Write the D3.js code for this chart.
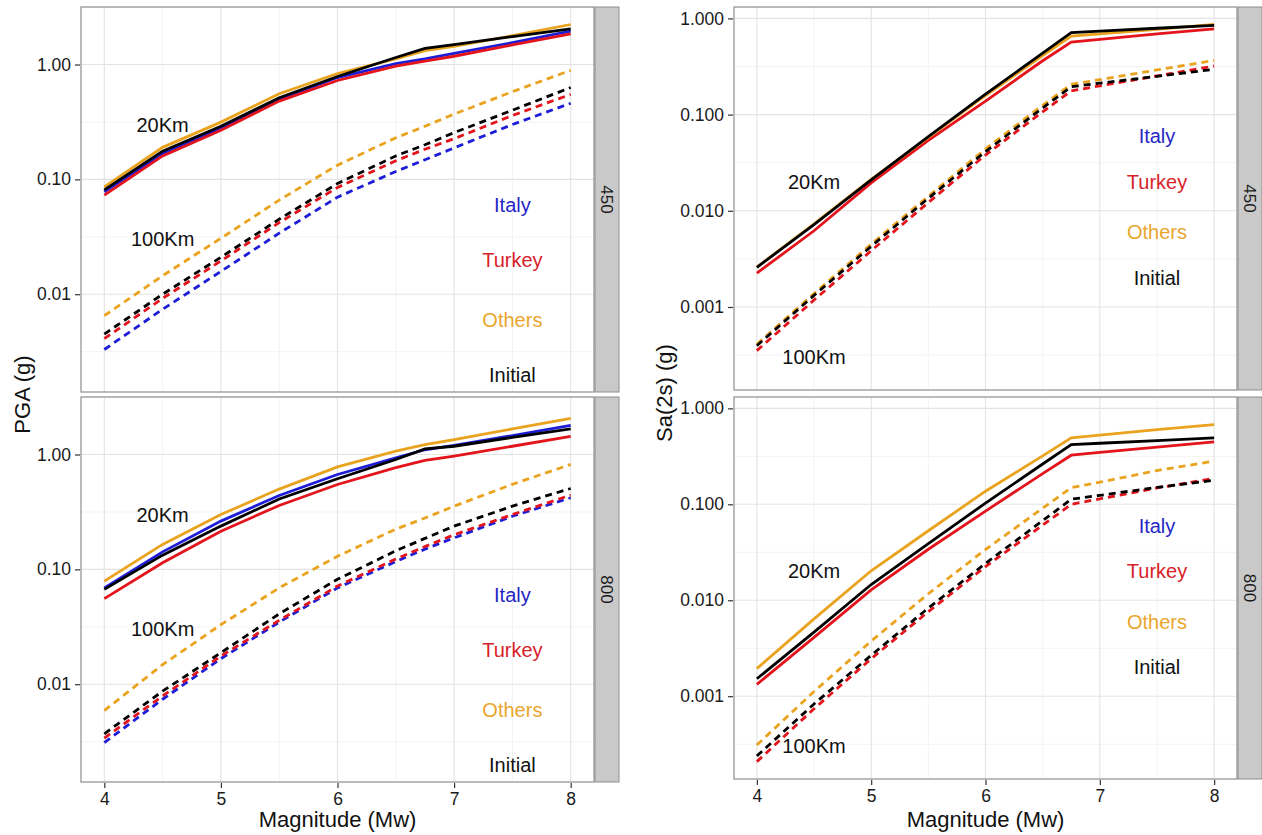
<!DOCTYPE html>
<html>
<head>
<meta charset="utf-8">
<script src="https://cdn.jsdelivr.net/npm/d3@7"></script>
<style>
  body { margin: 0; background: #fff; }
  svg { font-family: "Liberation Sans", Arial, sans-serif; }
</style>
</head>
<body>
<script>
// magnitudes shared by every curve
const magnitudes = [4, 4.5, 5, 5.5, 6, 6.5, 6.75, 7, 7.5, 8];
const regionNames = ["Italy", "Turkey", "Others", "Initial"];
const siteLabels = ["450", "800"];
const distanceLabels = ["20Km", "100Km"];

// PGA, Vs30 = 450, 20 km
const pga450NearItaly = [0.078, 0.168, 0.28, 0.50, 0.77, 1.02, 1.12, 1.25, 1.55, 1.95];
const pga450NearTurkey = [0.073, 0.16, 0.268, 0.48, 0.726, 0.97, 1.07, 1.18, 1.48, 1.85];
const pga450NearOthers = [0.086, 0.19, 0.315, 0.556, 0.835, 1.12, 1.32, 1.44, 1.78, 2.23];
const pga450NearInitial = [0.081, 0.176, 0.29, 0.513, 0.787, 1.15, 1.38, 1.49, 1.75, 2.04];
// PGA, 450, 100 km
const pga450FarItaly = [0.0033, 0.0074, 0.0158, 0.034, 0.070, 0.117, 0.148, 0.188, 0.30, 0.46];
const pga450FarTurkey = [0.0041, 0.0092, 0.0195, 0.042, 0.085, 0.145, 0.183, 0.226, 0.36, 0.55];
const pga450FarOthers = [0.0065, 0.0145, 0.0307, 0.066, 0.133, 0.23, 0.29, 0.37, 0.58, 0.89];
const pga450FarInitial = [0.0045, 0.0100, 0.021, 0.045, 0.092, 0.16, 0.20, 0.255, 0.40, 0.63];
// PGA, 800, 20 km
const pga800NearItaly = [0.069, 0.142, 0.263, 0.44, 0.67, 0.935, 1.10, 1.20, 1.46, 1.79];
const pga800NearTurkey = [0.0556, 0.114, 0.215, 0.36, 0.548, 0.77, 0.89, 0.97, 1.18, 1.44];
const pga800NearOthers = [0.079, 0.165, 0.30, 0.50, 0.78, 1.07, 1.22, 1.35, 1.67, 2.06];
const pga800NearInitial = [0.067, 0.133, 0.238, 0.41, 0.615, 0.905, 1.12, 1.18, 1.41, 1.67];
// PGA, 800, 100 km
const pga800FarItaly = [0.0031, 0.0074, 0.0167, 0.0347, 0.069, 0.117, 0.15, 0.188, 0.29, 0.42];
const pga800FarTurkey = [0.0034, 0.0079, 0.0176, 0.036, 0.0716, 0.123, 0.158, 0.20, 0.30, 0.443];
const pga800FarOthers = [0.0059, 0.0148, 0.033, 0.069, 0.13, 0.224, 0.28, 0.355, 0.55, 0.82];
const pga800FarInitial = [0.0037, 0.0087, 0.0188, 0.041, 0.082, 0.145, 0.186, 0.238, 0.355, 0.506];

// Sa(2s), 450, 20 km (Italy lies under Initial)
const sa450NearTurkey = [0.00225, 0.0062, 0.0195, 0.054, 0.138, 0.363, 0.568, 0.605, 0.69, 0.78];
const sa450NearOthers = [0.0026, 0.0073, 0.0212, 0.058, 0.158, 0.41, 0.656, 0.69, 0.77, 0.866];
const sa450NearInitial = [0.00258, 0.0072, 0.021, 0.059, 0.163, 0.435, 0.71, 0.736, 0.79, 0.846];
// Sa(2s), 450, 100 km
const sa450FarTurkey = [0.000352, 0.00118, 0.00384, 0.0122, 0.038, 0.107, 0.176, 0.199, 0.252, 0.32];
const sa450FarOthers = [0.00041, 0.00138, 0.0045, 0.0142, 0.044, 0.125, 0.206, 0.231, 0.291, 0.366];
const sa450FarInitial = [0.000396, 0.00132, 0.00427, 0.0135, 0.0413, 0.117, 0.195, 0.212, 0.25, 0.296];
// Sa(2s), 800, 20 km
const sa800NearTurkey = [0.00133, 0.0041, 0.0128, 0.034, 0.085, 0.209, 0.325, 0.347, 0.395, 0.447];
const sa800NearOthers = [0.00194, 0.0064, 0.0203, 0.053, 0.137, 0.32, 0.492, 0.525, 0.60, 0.677];
const sa800NearInitial = [0.00152, 0.00465, 0.0146, 0.039, 0.103, 0.263, 0.42, 0.433, 0.46, 0.492];
// Sa(2s), 800, 100 km
const sa800FarTurkey = [0.000208, 0.00074, 0.00246, 0.0076, 0.0224, 0.0607, 0.10, 0.114, 0.148, 0.186];
const sa800FarOthers = [0.00031, 0.00112, 0.00375, 0.0117, 0.0338, 0.091, 0.149, 0.17, 0.225, 0.282];
const sa800FarInitial = [0.000238, 0.00083, 0.00267, 0.0083, 0.0242, 0.0676, 0.113, 0.124, 0.15, 0.178];

// axis ticks
const magTicks = [4, 5, 6, 7, 8];
const magMinorTicks = [4.5, 5.5, 6.5, 7.5];
const pgaTicks = [0.01, 0.1, 1];
const pgaMinorTicks = [0.00316, 0.0316, 0.316, 3.16];
const saTicks = [0.001, 0.01, 0.1, 1];
const saMinorTicks = [0.000316, 0.00316, 0.0316, 0.316];

// in-panel labels (data coordinates)
const regionLabelX = 7.5;
const regionLabelY = [0.06, 0.02, 0.006, 0.002];
const distLabelX = 4.5;
const pgaDistLabelY = [0.3, 0.03];
const saDistLabelY = [0.02, 0.0003];

const lineColors = { Italy: "#1d1dd8", Turkey: "#e3141c", Others: "#eaa31e", Initial: "#000000" };
const textColors = { Italy: "#2626c6", Turkey: "#d8222a", Others: "#eaa62c", Initial: "#111111" };

const width = 1262;
const height = 835;

const svg = d3.select("body").append("svg")
  .attr("width", width)
  .attr("height", height);

function panelSeries(near, far) {
  const out = [];
  near.forEach((vals, i) => { if (vals) out.push({ region: regionNames[i], dashed: false, values: vals }); });
  far.forEach((vals, i) => { if (vals) out.push({ region: regionNames[i], dashed: true, values: vals }); });
  return out;
}

const plots = [
  {
    title: "PGA (g)", x0: 81, x1: 594, titleX: 30,
    ticks: pgaTicks, minor: pgaMinorTicks, fmt: d3.format(".2f"), distY: pgaDistLabelY,
    panels: [
      { y0: 7, y1: 392, site: siteLabels[0],
        series: panelSeries([pga450NearItaly, pga450NearTurkey, pga450NearOthers, pga450NearInitial],
                            [pga450FarItaly, pga450FarTurkey, pga450FarOthers, pga450FarInitial]) },
      { y0: 397, y1: 782, site: siteLabels[1],
        series: panelSeries([pga800NearItaly, pga800NearTurkey, pga800NearOthers, pga800NearInitial],
                            [pga800FarItaly, pga800FarTurkey, pga800FarOthers, pga800FarInitial]) }
    ]
  },
  {
    title: "Sa(2s) (g)", x0: 734, x1: 1237, titleX: 672,
    ticks: saTicks, minor: saMinorTicks, fmt: d3.format(".3f"), distY: saDistLabelY,
    panels: [
      { y0: 7, y1: 390, site: siteLabels[0],
        series: panelSeries([null, sa450NearTurkey, sa450NearOthers, sa450NearInitial],
                            [null, sa450FarTurkey, sa450FarOthers, sa450FarInitial]) },
      { y0: 397, y1: 779, site: siteLabels[1],
        series: panelSeries([null, sa800NearTurkey, sa800NearOthers, sa800NearInitial],
                            [null, sa800FarTurkey, sa800FarOthers, sa800FarInitial]) }
    ]
  }
];

plots.forEach((p) => {
  const x = d3.scaleLinear().domain([3.8, 8.2]).range([p.x0, p.x1]);

  // y range shared by both rows, 5% expansion in log space (ggplot style)
  const logs = [];
  p.panels.forEach((pn) => pn.series.forEach((s) => s.values.forEach((v) => logs.push(Math.log10(v)))));
  regionLabelY.concat(p.distY).forEach((v) => logs.push(Math.log10(v)));
  const ext = d3.extent(logs);
  const pad = (ext[1] - ext[0]) * 0.05;
  const yDomain = [Math.pow(10, ext[0] - pad), Math.pow(10, ext[1] + pad)];

  p.panels.forEach((pn, pi) => {
    const y = d3.scaleLog().domain(yDomain).range([pn.y1, pn.y0]);
    const g = svg.append("g");

    g.append("rect")
      .attr("x", p.x0).attr("y", pn.y0)
      .attr("width", p.x1 - p.x0).attr("height", pn.y1 - pn.y0)
      .attr("fill", "#fff");

    // grid
    g.selectAll(".minor-x").data(magMinorTicks).enter().append("line")
      .attr("x1", (d) => x(d)).attr("x2", (d) => x(d))
      .attr("y1", pn.y0).attr("y2", pn.y1)
      .attr("stroke", "#f3f3f3").attr("stroke-width", 1);
    g.selectAll(".minor-y").data(p.minor.filter((d) => y(d) > pn.y0 && y(d) < pn.y1)).enter().append("line")
      .attr("x1", p.x0).attr("x2", p.x1)
      .attr("y1", (d) => y(d)).attr("y2", (d) => y(d))
      .attr("stroke", "#f3f3f3").attr("stroke-width", 1);
    g.selectAll(".major-x").data(magTicks).enter().append("line")
      .attr("x1", (d) => x(d)).attr("x2", (d) => x(d))
      .attr("y1", pn.y0).attr("y2", pn.y1)
      .attr("stroke", "#e3e3e3").attr("stroke-width", 1.1);
    g.selectAll(".major-y").data(p.ticks).enter().append("line")
      .attr("x1", p.x0).attr("x2", p.x1)
      .attr("y1", (d) => y(d)).attr("y2", (d) => y(d))
      .attr("stroke", "#e3e3e3").attr("stroke-width", 1.1);

    // curves
    const line = d3.line()
      .x((d) => x(d[0]))
      .y((d) => y(d[1]));

    g.selectAll(".curve").data(pn.series).enter().append("path")
      .attr("d", (s) => line(magnitudes.map((m, i) => [m, s.values[i]])))
      .attr("fill", "none")
      .attr("stroke", (s) => lineColors[s.region])
      .attr("stroke-width", 2.8)
      .attr("stroke-dasharray", (s) => (s.dashed ? "7,5" : null));

    // distance labels
    g.selectAll(".dist").data(distanceLabels).enter().append("text")
      .attr("x", x(distLabelX))
      .attr("y", (d, i) => y(p.distY[i]))
      .attr("dy", "0.35em")
      .attr("text-anchor", "middle")
      .attr("font-size", 20)
      .attr("fill", "#111")
      .text((d) => d);

    // region labels
    g.selectAll(".region").data(regionNames).enter().append("text")
      .attr("x", x(regionLabelX))
      .attr("y", (d, i) => y(regionLabelY[i]))
      .attr("dy", "0.35em")
      .attr("text-anchor", "middle")
      .attr("font-size", 20)
      .attr("fill", (d) => textColors[d])
      .text((d) => d);

    // border
    g.append("rect")
      .attr("x", p.x0).attr("y", pn.y0)
      .attr("width", p.x1 - p.x0).attr("height", pn.y1 - pn.y0)
      .attr("fill", "none").attr("stroke", "#8e8e8e").attr("stroke-width", 1.2);

    // strip
    g.append("rect")
      .attr("x", p.x1 + 1).attr("y", pn.y0)
      .attr("width", 24).attr("height", pn.y1 - pn.y0)
      .attr("fill", "#c9c9c9").attr("stroke", "#8e8e8e").attr("stroke-width", 1);
    g.append("text")
      .attr("transform", `translate(${p.x1 + 13}, ${(pn.y0 + pn.y1) / 2}) rotate(90)`)
      .attr("dy", "0.35em")
      .attr("text-anchor", "middle")
      .attr("font-size", 17)
      .attr("fill", "#1a1a1a")
      .text(pn.site);

    // y axis
    const yAxis = d3.axisLeft(y).tickValues(p.ticks).tickFormat(p.fmt).tickSize(5).tickPadding(4);
    const ya = g.append("g").attr("transform", `translate(${p.x0 - 1}, 0)`).call(yAxis);
    ya.select(".domain").remove();
    ya.selectAll(".tick line").attr("stroke", "#333").attr("stroke-width", 1.2);
    ya.selectAll(".tick text").attr("font-size", 17.5).attr("fill", "#1a1a1a")
      .attr("font-family", "Liberation Sans, Arial, sans-serif");

    // x axis only on the bottom row
    if (pi === p.panels.length - 1) {
      const xAxis = d3.axisBottom(x).tickValues(magTicks).tickFormat(d3.format("d")).tickSize(5).tickPadding(5);
      const xa = g.append("g").attr("transform", `translate(0, ${pn.y1 + 1})`).call(xAxis);
      xa.select(".domain").remove();
      xa.selectAll(".tick line").attr("stroke", "#333").attr("stroke-width", 1.2);
      xa.selectAll(".tick text").attr("font-size", 17.5).attr("fill", "#1a1a1a")
        .attr("font-family", "Liberation Sans, Arial, sans-serif");

      svg.append("text")
        .attr("x", (p.x0 + p.x1) / 2)
        .attr("y", 827)
        .attr("text-anchor", "middle")
        .attr("font-size", 22)
        .attr("fill", "#111")
        .text("Magnitude (Mw)");
    }
  });

  svg.append("text")
    .attr("transform", `translate(${p.titleX}, ${(p.panels[0].y0 + p.panels[1].y1) / 2}) rotate(-90)`)
    .attr("text-anchor", "middle")
    .attr("font-size", 22)
    .attr("fill", "#111")
    .text(p.title);
});
</script>
</body>
</html>
